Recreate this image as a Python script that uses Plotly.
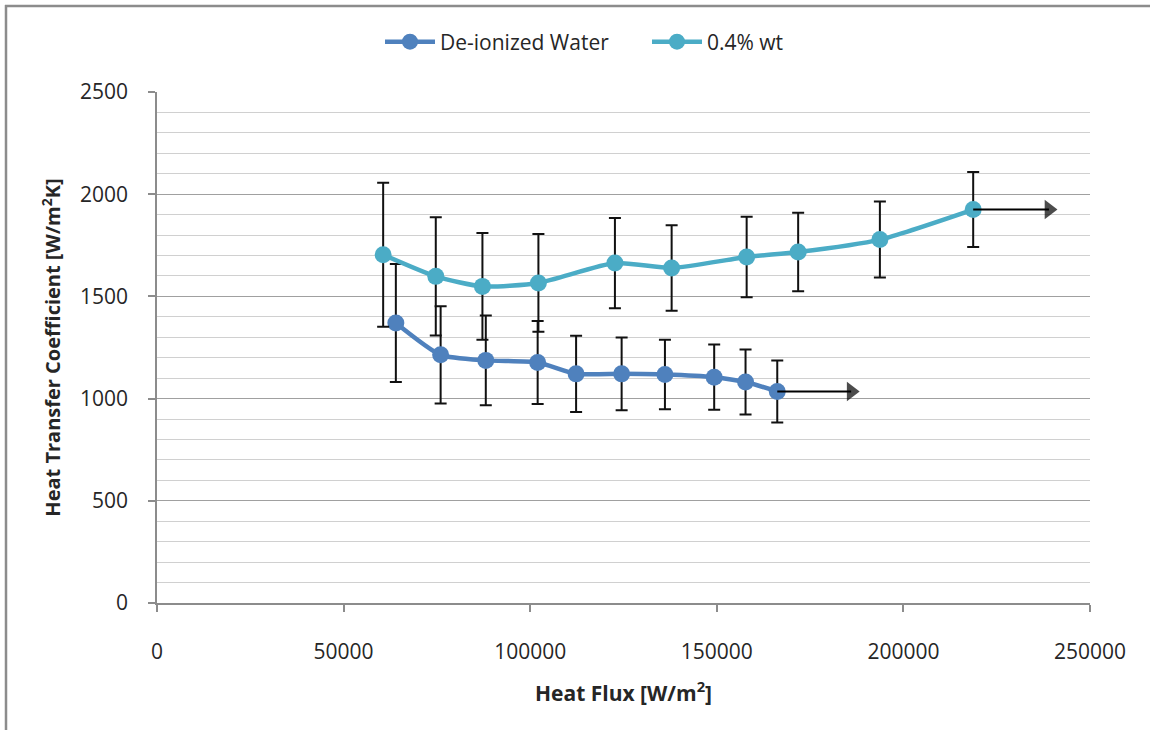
import plotly.graph_objects as go

# Heat flux [W/m^2] and heat transfer coefficient [W/m^2K] with error half-widths
water_flux = [64000, 76000, 88100, 102000, 112300, 124500, 136100, 149300, 157700, 166200]
water_htc = [1370, 1214, 1187, 1177, 1121, 1121, 1118, 1105, 1081, 1035]
water_err = [289, 238, 220, 203, 187, 178, 170, 160, 159, 152]

nano_flux = [60600, 74700, 87200, 102200, 122700, 137900, 158000, 171800, 193700, 218700]
nano_htc = [1704, 1598, 1549, 1566, 1663, 1639, 1693, 1717, 1778, 1925]
nano_err = [352, 289, 261, 239, 221, 209, 197, 192, 186, 183]

# Heat flux at the head of each "continues beyond" arrow
arrow_end_flux = [186000, 239000]

series_names = ["De-ionized Water", "0.4% wt"]
series_colors = ["#4F81BD", "#4BACC6"]

x_ticks = [0, 50000, 100000, 150000, 200000, 250000]
y_ticks = [0, 500, 1000, 1500, 2000, 2500]

W, H = 1150, 730
ML, MR, MT, MB = 157, 60, 92, 127

FONT = "Open Sans"
TXT = "#262626"

fig = go.Figure()
datasets = [(water_flux, water_htc, water_err), (nano_flux, nano_htc, nano_err)]
for (xs, ys, es), name, col in zip(datasets, series_names, series_colors):
    fig.add_trace(go.Scatter(
        x=xs, y=ys, name=name, mode="lines+markers",
        line=dict(color=col, width=4.5, shape="spline", smoothing=0.6),
        marker=dict(color=col, size=17),
        error_y=dict(type="data", array=es, visible=True,
                     color="#111111", thickness=2, width=6),
    ))

# Arrows from the last measured point of each series
for (xs, ys, _), xe in zip(datasets, arrow_end_flux):
    fig.add_trace(go.Scatter(
        x=[xs[-1], xe], y=[ys[-1], ys[-1]], mode="lines+markers",
        line=dict(color="#000000", width=2),
        marker=dict(symbol=["circle", "triangle-right"], size=[0, 17],
                    color="#000000", line=dict(width=0)),
        showlegend=False, hoverinfo="skip",
    ))

pw = W - ML - MR
ph = H - MT - MB


def px_x(p):
    return (p - ML) / pw


def px_y(p):
    return (H - MB - p) / ph


# Outer frame (top and left edges)
fig.add_shape(type="line", xref="paper", yref="paper",
              x0=px_x(5), x1=px_x(W + 5), y0=px_y(6), y1=px_y(6),
              line=dict(color="#8c8c8c", width=2.5))
fig.add_shape(type="line", xref="paper", yref="paper",
              x0=px_x(6), x1=px_x(6), y0=px_y(5), y1=px_y(H + 5),
              line=dict(color="#8c8c8c", width=2.5))

fig.update_layout(
    width=W, height=H,
    margin=dict(l=ML, r=MR, t=MT, b=MB),
    paper_bgcolor="white", plot_bgcolor="white",
    font=dict(family=FONT, color=TXT),
    showlegend=True,
    legend=dict(orientation="h", x=px_x(380), xanchor="left",
                y=px_y(42), yanchor="middle",
                font=dict(family=FONT, size=21, color=TXT),
                itemwidth=50, entrywidth=202, traceorder="normal"),
    xaxis=dict(
        range=[0, 250000], tickvals=x_ticks,
        ticktext=[str(v) for v in x_ticks],
        showgrid=False, zeroline=False,
        showline=True, linecolor="#8c8c8c", linewidth=1.5,
        ticks="outside", ticklen=7, tickcolor="#8c8c8c", tickwidth=1.5,
        ticklabelstandoff=22,
        tickfont=dict(family=FONT, size=21, color=TXT),
        title=dict(text="<b>Heat Flux [W/m<sup>2</sup>]</b>",
                   font=dict(family=FONT, size=21, color=TXT), standoff=22),
    ),
    yaxis=dict(
        range=[0, 2500], tickvals=y_ticks,
        showgrid=True, gridcolor="#a0a0a0", gridwidth=1.4,
        zeroline=False,
        showline=True, linecolor="#8c8c8c", linewidth=1.5,
        ticks="outside", ticklen=7, tickcolor="#8c8c8c", tickwidth=1.5,
        ticklabelstandoff=16,
        tickfont=dict(family=FONT, size=21, color=TXT),
        minor=dict(dtick=100, showgrid=True, gridcolor="#d0d0d0",
                   gridwidth=1, ticks=""),
        title=dict(text="<b>Heat Transfer Coefficient [W/m<sup>2</sup>K]</b>",
                   font=dict(family=FONT, size=20, color=TXT), standoff=14),
    ),
)

fig.write_html("out.html")
